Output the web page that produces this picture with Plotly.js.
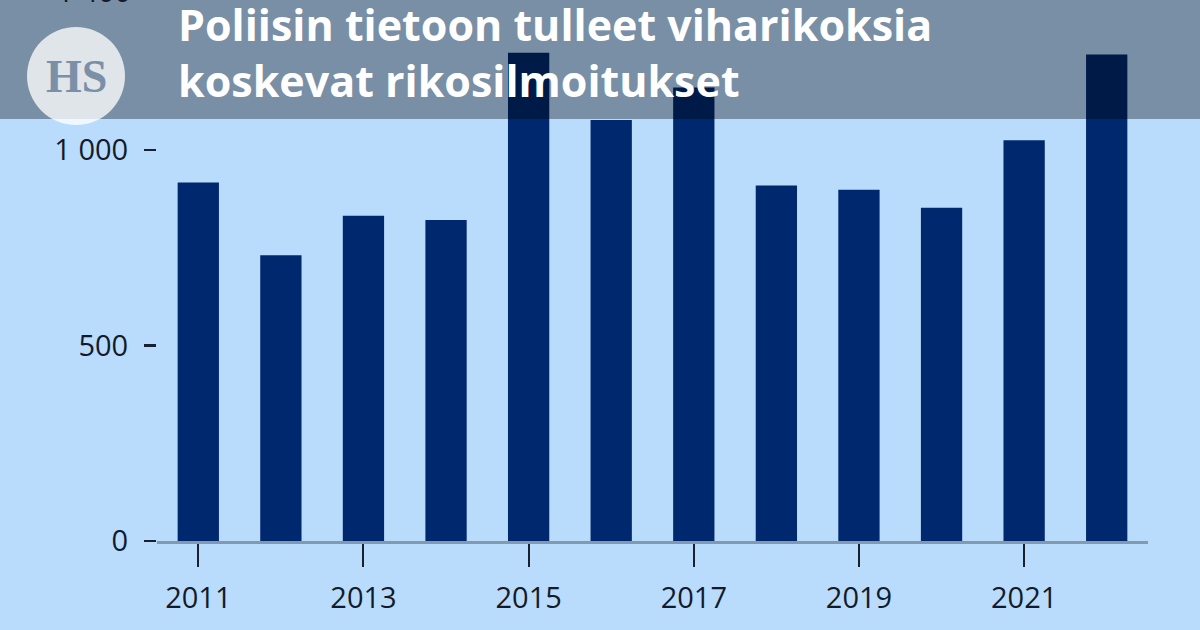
<!DOCTYPE html>
<html>
<head>
<meta charset="utf-8">
<script src="https://cdn.plot.ly/plotly-3.0.1.min.js"></script>
<style>html,body{margin:0;padding:0;background:#b9dcfd;}#chart{width:1200px;height:630px;}</style>
</head>
<body>
<div id="chart"></div>
<script>
var years = [2011, 2012, 2013, 2014, 2015, 2016, 2017, 2018, 2019, 2020, 2021, 2022];
var reports = [917, 731, 832, 821, 1249, 1077, 1160, 909, 898, 852, 1025, 1244];
var xTickVals = [2011, 2013, 2015, 2017, 2019, 2021];
var yTickVals = [0, 500, 1000];
var titleLines = ["Poliisin tietoon tulleet viharikoksia", "koskevat rikosilmoitukset"];
var topTickLabel = "1 400";
var topTickValue = 1400;

var W = 1200, H = 630, L = 157, R = 52, T = 0, B = 89;
var plotW = W - L - R, plotH = H - T - B;
var yMax = 1383.6;
function px(x) { return (x - L) / plotW; }
function py(y) { return 1 - (y - T) / plotH; }

var tickFont = {family: "Open Sans, sans-serif", size: 29, color: "#141a2a"};

var trace = {
  type: "bar",
  x: years,
  y: reports,
  width: 0.5,
  marker: {color: "#00286f", line: {width: 0}},
  hoverinfo: "skip"
};

var layout = {
  width: W, height: H,
  margin: {l: L, r: R, t: T, b: B, pad: 0},
  paper_bgcolor: "#b9dcfd",
  plot_bgcolor: "#b9dcfd",
  showlegend: false,
  separators: ", ",
  xaxis: {
    range: [2010.5, 2022.5],
    tickvals: xTickVals,
    ticktext: xTickVals.map(String),
    ticks: "outside", ticklen: 23, tickwidth: 2, tickcolor: "#1a2030",
    showline: true, linecolor: "#8399af", linewidth: 3,
    showgrid: false, zeroline: false,
    tickfont: tickFont,
    ticklabelstandoff: 6,
    fixedrange: true
  },
  yaxis: {
    range: [0, yMax],
    tickvals: yTickVals,
    tickformat: ",d",
    separatethousands: true,
    ticks: "outside", ticklen: 12, tickwidth: 2.5, tickcolor: "#1a2030",
    showline: false, showgrid: false, zeroline: false,
    tickfont: tickFont,
    ticklabelstandoff: 10,
    fixedrange: true
  },
  shapes: [
    {type: "rect", xref: "paper", yref: "paper", layer: "above",
     x0: px(-5), x1: px(1205), y0: py(119), y1: py(-5),
     fillcolor: "rgba(0,0,0,0.35)", line: {width: 0}},
    {type: "circle", xref: "paper", yref: "paper", layer: "above",
     x0: px(27), x1: px(125), y0: py(125), y1: py(27),
     fillcolor: "rgba(255,255,255,0.77)", line: {width: 0}}
  ],
  annotations: [
    {xref: "paper", yref: "paper", x: px(133), y: topTickValue / yMax, xanchor: "right", yanchor: "middle",
     yshift: 3, text: topTickLabel, showarrow: false, font: tickFont},
    {xref: "paper", yref: "paper", x: px(176), y: py(52), xanchor: "left", yanchor: "middle",
     align: "left",
     text: "<b>" + titleLines[0] + "<br>" + titleLines[1] + "</b>", showarrow: false,
     font: {family: "Open Sans, sans-serif", size: 43, color: "#ffffff"}},
    {xref: "paper", yref: "paper", x: px(76), y: py(76), xanchor: "center", yanchor: "middle",
     text: "<b>HS</b>", showarrow: false,
     font: {family: "Liberation Serif, serif", size: 46, color: "#7a8fa8"}}
  ]
};

Plotly.newPlot("chart", [trace], layout, {displayModeBar: false, staticPlot: true});
</script>
</body>
</html>
